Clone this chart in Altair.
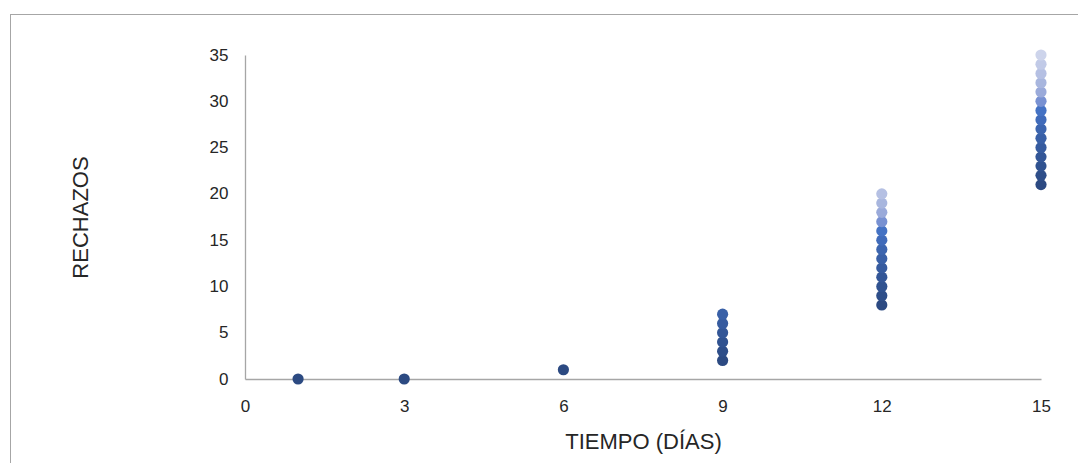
import altair as alt
import pandas as pd

# Day values (x) and the rejection counts observed on each day (y)
day_1 = [0]
day_3 = [0]
day_6 = [1]
day_9 = [2, 3, 4, 5, 6, 7]
day_12 = [8, 9, 10, 11, 12, 13, 14, 15, 16, 17, 18, 19, 20]
day_15 = [21, 22, 23, 24, 25, 26, 27, 28, 29, 30, 31, 32, 33, 34, 35]
days = [1, 3, 6, 9, 12, 15]
series = [day_1, day_3, day_6, day_9, day_12, day_15]

x_ticks = [0, 3, 6, 9, 12, 15]
y_ticks = [0, 5, 10, 15, 20, 25, 30, 35]

rank_colors = ["#2C4A82", "#2E4E89", "#305290", "#335697", "#365B9F", "#3960A7",
               "#3C65AF", "#406BBA", "#4472C4", "#7891D2", "#9AAADA", "#A8B6DE",
               "#B5C0E3", "#C1CAE7", "#CDD4EB"]

rows = []
for d, vals in zip(days, series):
    for i, v in enumerate(vals):
        rows.append({"dia": d, "rechazos": v, "rank": i + 1})
df = pd.DataFrame(rows)

FONT = "Liberation Sans, Arial, sans-serif"
W, H = 796, 324

points = alt.Chart(df).mark_circle(size=125, opacity=1).encode(
    x=alt.X("dia:Q", scale=alt.Scale(domain=[0, 15], nice=False),
            axis=alt.Axis(values=x_ticks, title="TIEMPO (DÍAS)", grid=False, ticks=False,
                          domainColor="#A6A6A6", labelPadding=19, labelFontSize=17,
                          labelFlush=False,
                          titleFontSize=22, titleFontWeight="normal",
                          titleX=W / 2, titleY=62, titleBaseline="middle", titleAlign="center")),
    y=alt.Y("rechazos:Q", scale=alt.Scale(domain=[0, 35], nice=False),
            axis=alt.Axis(values=y_ticks, title="RECHAZOS", grid=False, ticks=False,
                          domainColor="#A6A6A6", labelPadding=17, labelFontSize=17,
                          labelFlush=False,
                          titleFontSize=22, titleFontWeight="normal",
                          titleX=-165, titleY=H / 2, titleAngle=-90,
                          titleBaseline="middle", titleAlign="center")),
    color=alt.Color("rank:O", scale=alt.Scale(domain=list(range(1, 16)), range=rank_colors),
                    legend=None),
    order=alt.Order("rank:Q"),
)

frame = alt.Chart(df).mark_rect(fill=None, stroke="#A6A6A6", strokeWidth=1).encode(
    x=alt.value(-234.5), x2=alt.value(1200), y=alt.value(-40.5), y2=alt.value(700)
)

chart = alt.layer(frame, points).properties(
    width=W, height=H,
    autosize=alt.AutoSizeParams(type="none"),
    padding={"left": 237, "top": 47, "right": 37, "bottom": 84},
    background="white",
).configure_view(stroke=None).configure_axis(
    labelFont=FONT, titleFont=FONT, labelColor="#262626", titleColor="#262626",
    domainWidth=1.3,
)

chart.save("out.html", embed_options={"renderer": "svg", "actions": False})
